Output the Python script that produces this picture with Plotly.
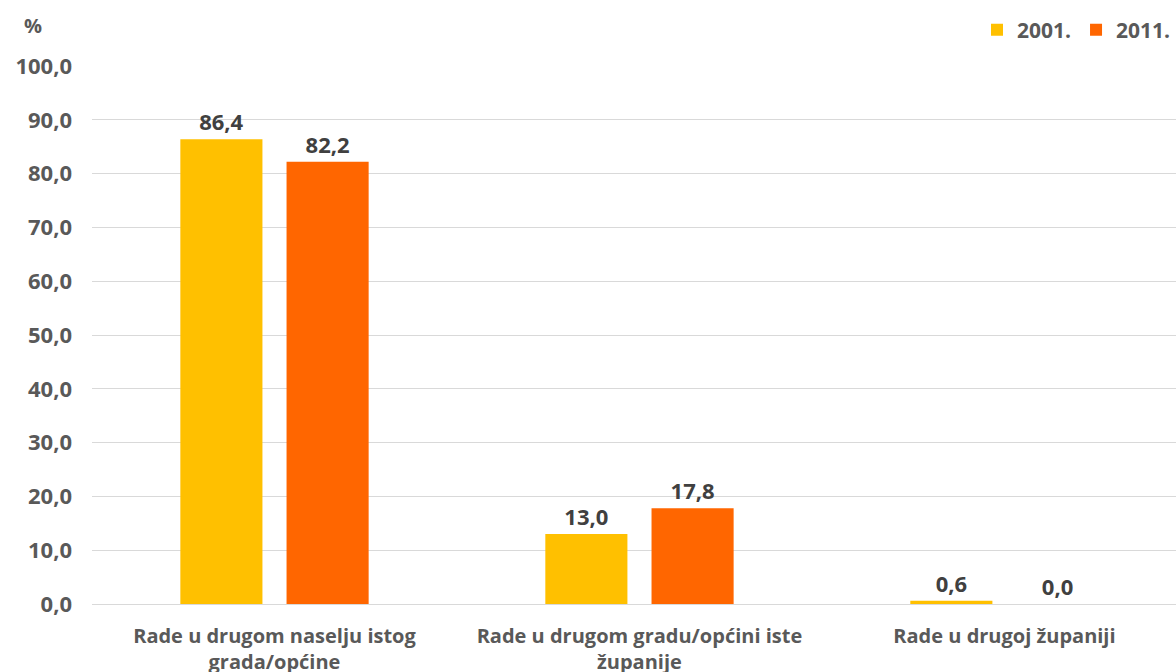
import plotly.graph_objects as go

categories = ["Rade u drugom naselju istog<br>grada/općine",
              "Rade u drugom gradu/općini iste<br>županije",
              "Rade u drugoj županiji"]
series_names = ["2001.", "2011."]
values_2001 = [86.4, 13.0, 0.6]
values_2011 = [82.2, 17.8, 0.0]
tick_vals = [0, 10, 20, 30, 40, 50, 60, 70, 80, 90, 100]

colors = ["#FFC000", "#FF6600"]
txt = "#595959"
lbl = "#404040"
FONT = "Open Sans"

fig = go.Figure()
for name, vals, col in zip(series_names, [values_2001, values_2011], colors):
    fig.add_trace(go.Bar(
        x=list(range(len(categories))), y=vals, name=name,
        marker=dict(color=col, line=dict(width=0)),
        texttemplate="%{y:.1f}", textposition="outside", cliponaxis=False,
        textfont=dict(family=FONT, size=22, color=lbl, weight="bold"),
    ))

fig.update_layout(
    width=1176, height=672,
    margin=dict(l=92, r=0, t=66, b=68, autoexpand=False),
    paper_bgcolor="white", plot_bgcolor="white",
    separators=", ",
    barmode="group", bargap=0.418, bargroupgap=0.227,
    font=dict(family=FONT, size=20, color=txt, weight="bold"),
    showlegend=True,
    legend=dict(orientation="h", x=1.0, xanchor="right", xref="container",
                y=1 - 30 / 672, yanchor="middle", yref="container",
                font=dict(family=FONT, size=21, color=txt, weight="bold"),
                itemwidth=30, traceorder="normal", bgcolor="rgba(0,0,0,0)"),
    xaxis=dict(tickmode="array", tickvals=list(range(len(categories))), ticktext=categories,
               range=[-0.5, 2.47], showgrid=False, showline=False, zeroline=False,
               automargin=False, ticklabelstandoff=18,
               tickfont=dict(family=FONT, size=20, color=txt, weight="bold"), ticks=""),
    yaxis=dict(range=[0, 100], tickvals=tick_vals, tickformat=".1f",
               showgrid=True, gridcolor="#D9D9D9", gridwidth=1.3,
               zeroline=True, zerolinecolor="#D9D9D9", zerolinewidth=1.3,
               showline=False, ticks="", ticklabelstandoff=19, automargin=False,
               tickfont=dict(family=FONT, size=22, color=txt, weight="bold")),
    annotations=[dict(text="%", xref="paper", yref="paper", x=-0.054, y=1.075,
                      xanchor="center", yanchor="middle", showarrow=False,
                      font=dict(family=FONT, size=20, color=txt, weight="bold"))],
)

fig.write_html("out.html", config={"displayModeBar": False},
               post_script="document.body.style.margin='0';document.body.style.overflow='hidden';")
